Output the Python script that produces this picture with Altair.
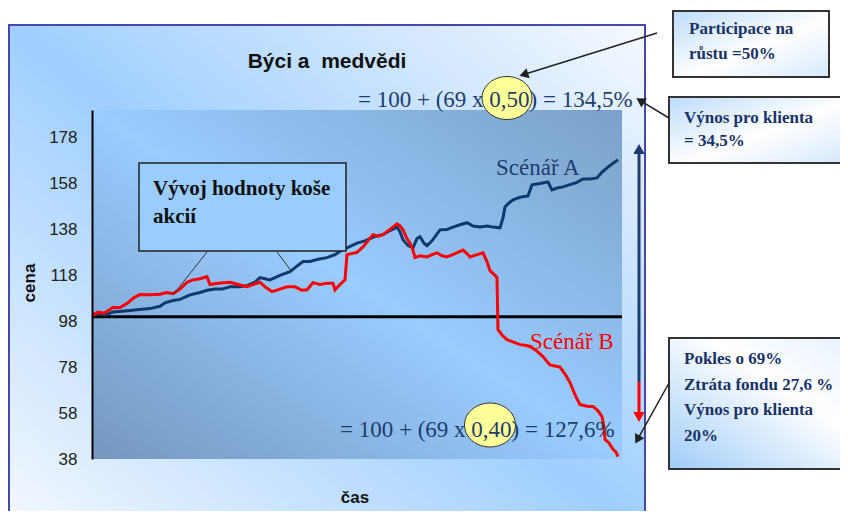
import math
import altair as alt
import pandas as pd

# ---------------- data ----------------
# Scénář A (blue): time index vs. basket value
days_a = [1, 8, 13, 21, 33, 45, 58, 68, 73, 81, 88, 98, 108, 115, 123, 130, 138, 148, 155,
          163, 168, 173, 178, 188, 198, 205, 211, 218, 226, 235, 243, 248, 255, 265, 273,
          283, 291, 298, 305, 308, 311, 316, 321, 325, 328, 332, 335, 340, 348, 355, 361,
          368, 375, 381, 388, 395, 401, 408, 411, 413, 417, 421, 428, 436, 440, 448, 456,
          460, 465, 471, 478, 485, 491, 498, 505, 510, 515, 520, 526]
price_a = [101, 101.5, 100.8, 102, 102.5, 103, 103.5, 104.5, 106, 107, 107.5, 109.5, 110.5,
           111.5, 112, 112, 113, 113, 113.5, 115, 117, 116.5, 116, 118, 119.6, 122, 124, 124,
           125, 125.7, 127, 128.5, 130, 132, 133, 135, 135.7, 137.5, 139, 137, 133.5, 131,
           130, 134, 134.8, 132, 130.9, 133, 137.8, 138, 139, 140, 140.9, 139.5, 139, 139.5,
           139, 138.7, 143, 147.8, 149.5, 150.9, 152, 152.6, 157.4, 158, 158.7, 155.2, 156,
           156.5, 157.5, 158.5, 160, 160, 160.4, 163, 164.8, 166.5, 168.3]

# Scénář B (red)
days_b = [1, 6, 12, 21, 28, 36, 41, 48, 58, 68, 75, 81, 88, 95, 101, 108, 115, 118, 126, 138,
          146, 155, 161, 168, 173, 180, 188, 195, 203, 210, 215, 221, 228, 235, 241, 243, 248,
          253, 255, 260, 265, 271, 276, 281, 286, 291, 298, 305, 308, 311, 315, 318, 321, 323,
          328, 335, 340, 345, 350, 355, 363, 371, 375, 378, 385, 391, 395, 398, 403, 405, 406,
          410, 415, 421, 428, 433, 438, 445, 451, 455, 458, 463, 468, 473, 478, 483, 488, 495,
          501, 506, 510, 512, 513, 517, 521, 524, 526]
price_b = [100.5, 102, 101.5, 104, 104, 106, 108, 109.6, 109.5, 109.8, 110.5, 110, 112, 115,
           116, 116.5, 117.4, 114, 114.5, 115, 114, 113, 114, 115, 113, 110.9, 112, 113, 113,
           111.5, 111.7, 114.8, 114, 114.5, 114.5, 111.7, 114, 116, 127, 127.5, 128, 130.4,
           133, 135.7, 135, 135.7, 138, 140.4, 139.5, 137.8, 134, 132, 129, 125.7, 126.5, 126,
           127, 127.8, 126.5, 126, 127.5, 129, 127.5, 126, 127, 127.8, 124, 120, 118, 117,
           94.3, 92, 90, 89, 87.8, 87.5, 87, 85, 82.6, 80.5, 79, 78.5, 78, 75, 71.3, 66, 61.7,
           61, 60.9, 59, 56.5, 52, 46.5, 45, 42.2, 41, 39]

scenarios = ["Scénář A", "Scénář B"]
line_colors = ["#0d3a6b", "#ff0000"]
y_ticks = [38, 58, 78, 98, 118, 138, 158, 178]
base_level = [100]

df = pd.concat([
    pd.DataFrame({"den": days_a, "cena": price_a, "scenar": scenarios[0]}),
    pd.DataFrame({"den": days_b, "cena": price_b, "scenar": scenarios[1]}),
])

W, H = 530, 349
one = pd.DataFrame({"k": [0]})
SERIF = "Liberation Serif"
SANS = "Liberation Sans"
NAVY = "#1f3d6b"


def grad(stops, x1=0, y1=1, x2=1, y2=0):
    return alt.LinearGradient(
        gradient="linear",
        stops=[alt.GradientStop(color=c, offset=o) for o, c in stops],
        x1=x1, y1=y1, x2=x2, y2=y2)


def rect(x, y, x2, y2, fill, stroke=None, sw=0):
    kw = dict(fill=fill, strokeWidth=sw)
    if stroke:
        kw["stroke"] = stroke
    return alt.Chart(one).mark_rect(**kw).encode(
        x=alt.value(x), x2=alt.value(x2), y=alt.value(y), y2=alt.value(y2))


def rule(x, y, x2, y2, color, w):
    return alt.Chart(one).mark_rule(color=color, strokeWidth=w).encode(
        x=alt.value(x), x2=alt.value(x2), y=alt.value(y), y2=alt.value(y2))


def text(x, y, s, size, color="#111", font=SERIF, weight="normal", align="left",
         angle=0, lh=None):
    kw = dict(text=s, fontSize=size, color=color, font=font, fontWeight=weight,
              align=align, baseline="middle")
    if angle:
        kw["angle"] = angle
    if lh:
        kw["lineHeight"] = lh
        kw["baseline"] = "top"
    return alt.Chart(one).mark_text(**kw).encode(x=alt.value(x), y=alt.value(y))


def arrow(x1, y1, x2, y2, color, w=1.5, size=90, back=5):
    dx, dy = x2 - x1, y2 - y1
    L = math.hypot(dx, dy)
    ux, uy = dx / L, dy / L
    ang = math.degrees(math.atan2(dx, -dy)) % 360
    cx, cy = x2 - back * ux, y2 - back * uy
    ln = rule(x1, y1, cx, cy, color, w)
    head = alt.Chart(one).mark_point(shape="triangle-up", filled=True, size=size,
                                     color=color, angle=ang, opacity=1).encode(
        x=alt.value(cx), y=alt.value(cy))
    return [ln, head]


def ellipse_path(ry, n=48):
    pts = []
    for i in range(n):
        a = 2 * math.pi * i / n
        pts.append(f"{math.cos(a):.4f},{ry * math.sin(a):.4f}")
    return "M" + " L".join(pts) + " Z"


def ellipse(x, y, w, h):
    return alt.Chart(one).mark_point(shape=ellipse_path(h / w), size=w * w, filled=True,
                                     fill="#ffff99", stroke="#333333", strokeWidth=1,
                                     opacity=1).encode(x=alt.value(x), y=alt.value(y))


layers = []
# outer panel
layers.append(rect(-83, -85, 553, 425,
                   grad([(0, "#f6f9ff"), (0.5, "#9fcfff"), (1, "#f6f9ff")]),
                   stroke="#4848aa", sw=2))
# plot area
layers.append(rect(0, 0, W, H,
                   grad([(0, "#7597c0"), (0.5, "#99ccff"), (1, "#7aa0c8")])))

xs = alt.Scale(domain=[0, W], nice=False)
ys = alt.Scale(domain=[38, 190], nice=False, zero=False)

base = alt.Chart(pd.DataFrame({"cena": base_level})).mark_rule(
    color="black", strokeWidth=3).encode(y=alt.Y("cena:Q", scale=ys))
layers.append(base)

lines = alt.Chart(df).mark_line(strokeWidth=3, interpolate="linear").encode(
    x=alt.X("den:Q", scale=xs, axis=None),
    y=alt.Y("cena:Q", scale=ys, axis=alt.Axis(
        values=y_ticks, title=None, grid=False, ticks=False, domainColor="black",
        domainWidth=2, labelFont=SANS, labelFontSize=17, labelColor="#222222",
        labelPadding=15, zindex=1)),
    color=alt.Color("scenar:N", scale=alt.Scale(domain=scenarios, range=line_colors),
                    legend=None),
    detail="scenar:N",
)
layers.append(lines)

# box "Vývoj hodnoty koše akcií"
layers.append(rule(115, 142, 81, 185, "#333333", 1))
layers.append(rule(185, 142, 200, 162, "#333333", 1))
layers.append(rect(47, 53, 254, 141, "#99ccff", stroke="#222222", sw=1.5))
layers.append(text(61, 68, ["Vývoj hodnoty koše", "akcií"], 21, "#111111",
                   weight="bold", lh=28))

# formulas with ellipses
layers.append(ellipse(415, -12, 50, 43))
layers.append(ellipse(398, 315, 51, 44))
layers.append(text(266, -10, "= 100 + (69 x 0,50) = 134,5%", 23, NAVY))
layers.append(text(248, 320, "= 100 + (69 x 0,40) = 127,6%", 23, NAVY))

# scenario labels
layers.append(text(404, 58, "Scénář A", 23, NAVY))
layers.append(text(438, 232, "Scénář B", 23, "#ff0000"))

# vertical arrows
layers += arrow(547, 272, 547, 33, NAVY, w=3, size=130, back=6)
layers += arrow(547, 272, 547, 313, "#ff0000", w=3, size=130, back=6)

# title and axis titles
layers.append(text(235, -48, "Býci a\u00a0 medvědi", 21, "#111111", font=SANS,
                   weight="bold", align="center"))
layers.append(text(-62, 173, "cena", 17, "#111111", font=SANS, weight="bold",
                   align="center", angle=270))
layers.append(text(263, 388, "čas", 17, "#111111", font=SANS, weight="bold",
                   align="center"))

# right annotation boxes
box_a = grad([(0, "#bcdcfa"), (0.55, "#ffffff"), (1, "#d6e9fc")], 0, 0, 1, 1)
box_c = grad([(0, "#9fcdf8"), (0.6, "#ffffff"), (1, "#e4f1fe")], 0, 1, 1, 0)
layers.append(rect(581, -99, 737, -33, box_a, stroke="#333333", sw=2))
layers.append(text(597, -89, ["Participace na", "růstu =50%"], 17, "#1a3366",
                   weight="bold", lh=25))
layers.append(rect(577, -13, 749, 53, box_a, stroke="#333333", sw=2))
layers.append(text(592, 0, ["Výnos pro klienta", "= 34,5%"], 17, "#1a3366",
                   weight="bold", lh=23))
layers.append(rect(577, 228, 775, 359, box_c, stroke="#333333", sw=2))
layers.append(text(592, 241, ["Pokles o 69%", "Ztráta fondu 27,6 %", "Výnos pro klienta",
                              "20%"], 17, "#1a3366", weight="bold", lh=25.5))

layers += arrow(565, -77, 427, -34, "#222222", w=1.5, size=110)
layers += arrow(577, 8, 544, -12, "#222222", w=1.5, size=110)
layers += arrow(577, 273, 543, 334, "#222222", w=1.5, size=110)

chart = alt.layer(*layers).properties(
    width=W, height=H,
    padding={"left": 84, "top": 102, "right": 218, "bottom": 52},
    autosize=alt.AutoSizeParams(type="none"),
    background="white",
).configure_view(stroke=None)

chart.save("out.html", embed_options={"renderer": "svg", "actions": False})
